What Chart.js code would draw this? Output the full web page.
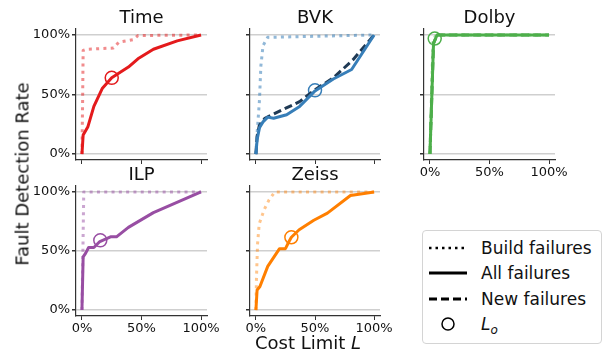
<!DOCTYPE html>
<html>
<head>
<meta charset="utf-8">
<script src="https://cdn.jsdelivr.net/npm/chart.js@4"></script>
<style>
    body { margin: 0; background: #fff; font-family: "DejaVu Sans", sans-serif; }
    #wrap { position: relative; width: 605px; height: 350px; overflow: hidden; }
    #wrap canvas { position: absolute; left: 0; top: 0; }
    .lbl { position: absolute; font-size: 18px; color: #111; white-space: nowrap; }
    #legend { position: absolute; left: 422px; top: 230px; width: 178px; height: 112px;
        border: 1px solid #d4d4d4; border-radius: 4px; background: #fff; }
    .row { position: absolute; left: 0; height: 24px; width: 178px; }
    .row svg { position: absolute; left: 4px; top: 0; }
    .row span { position: absolute; left: 58px; top: 0; font-size: 17px; line-height: 24px; color: #111; }
</style>
</head>
<body>
<div id="wrap">
    <canvas id="cTime" width="605" height="350"></canvas>
    <canvas id="cBVK" width="605" height="350"></canvas>
    <canvas id="cDolby" width="605" height="350"></canvas>
    <canvas id="cILP" width="605" height="350"></canvas>
    <canvas id="cZeiss" width="605" height="350"></canvas>
    <div class="lbl" id="ylab" style="left:22px; top:174px; transform: translate(-50%, -50%) rotate(-90deg);">Fault Detection Rate</div>
    <div class="lbl" style="left:308px; top:342px; transform: translate(-50%, -50%);">Cost Limit <i>L</i></div>
    <div id="legend">
        <div class="row" style="top:5px"><svg width="40" height="24"><line x1="2" y1="12" x2="40" y2="12" stroke="#000" stroke-width="2.5" stroke-dasharray="2.5,4"/></svg><span>Build failures</span></div>
        <div class="row" style="top:30px"><svg width="40" height="24"><line x1="2" y1="12" x2="40" y2="12" stroke="#000" stroke-width="3"/></svg><span>All failures</span></div>
        <div class="row" style="top:56px"><svg width="40" height="24"><line x1="2" y1="12" x2="40" y2="12" stroke="#000" stroke-width="3" stroke-dasharray="8,4"/></svg><span>New failures</span></div>
        <div class="row" style="top:81px"><svg width="40" height="24"><circle cx="21" cy="12" r="6" fill="none" stroke="#000" stroke-width="1.5"/></svg><span><i>L</i><sub style="font-size:12px"><i>o</i></sub></span></div>
    </div>
</div>
<script>
// tick values shared by every panel
const tickValues = [0, 50, 100];

// Time
const timeAllX = [0, 1, 5, 10, 17, 25, 39, 47, 60, 80, 100];
const timeAllY = [0, 16, 23, 40, 55, 64, 73, 80, 88, 95, 100];
const timeBuildX = [0, 0.5, 1, 4, 26.5, 31, 43, 47, 100];
const timeBuildY = [0, 40, 87, 88, 89, 94, 96, 99.5, 100];
const timeLo = [25, 64];

// BVK
const bvkAllX = [0, 1, 3, 6, 10, 15, 26, 37, 50, 65.5, 81, 100];
const bvkAllY = [0, 12, 22, 27, 31, 30, 33, 40, 53, 63, 71, 100];
const bvkNewX = [0, 1, 3, 7.6, 20, 37, 50, 65.5, 82, 100];
const bvkNewY = [0, 15, 24.5, 30, 36, 44, 54, 64, 79, 100];
const bvkBuildX = [0, 1, 3, 4.2, 6, 10, 100];
const bvkBuildY = [0, 17, 45, 74, 91, 98, 100];
const bvkLo = [50, 53.5];

// Dolby
const dolbyAllX = [0, 3, 6, 100];
const dolbyAllY = [0, 93, 100, 100];
const dolbyBuildX = [0, 2.5, 5, 100];
const dolbyBuildY = [0, 95, 100, 100];
const dolbyLo = [4, 97];

// ILP
const ilpAllX = [0, 1, 3, 5.6, 10, 15, 24, 29, 39, 60, 100];
const ilpAllY = [0, 45, 48, 53, 53, 58, 62, 62, 70, 82.5, 100];
const ilpBuildX = [0, 0.8, 1.5, 100];
const ilpBuildY = [0, 50, 100, 100];
const ilpLo = [15.4, 59];

// Zeiss
const zeissAllX = [0, 1, 3.4, 10, 20, 25, 28, 30, 36.6, 49, 60.5, 80, 100];
const zeissAllY = [0, 17, 20, 37, 52, 52, 58, 61.6, 68, 76, 82, 97, 100];
const zeissBuildX = [0, 0.5, 1.4, 2.8, 7, 11, 16, 100];
const zeissBuildY = [0, 28, 56, 73, 85, 93, 100, 100];
const zeissLo = [30, 61.6];

function pts(xs, ys) {
    return xs.map((x, i) => ({ x: x, y: ys[i] }));
}

function lineSet(xs, ys, color, kind) {
    const ds = {
        type: 'line',
        data: pts(xs, ys),
        borderColor: color,
        borderWidth: 3,
        pointRadius: 0,
        tension: 0,
        fill: false,
        borderCapStyle: 'butt',
        borderJoinStyle: 'round',
    };
    if (kind === 'dotted') ds.borderDash = [3, 4.3];
    if (kind === 'dashed') ds.borderDash = [8, 4];
    return ds;
}

function loSet(lo, color) {
    return {
        type: 'scatter',
        data: [{ x: lo[0], y: lo[1] }],
        pointRadius: 6.5,
        pointHoverRadius: 6.5,
        pointBorderWidth: 1.5,
        pointBorderColor: color,
        pointBackgroundColor: 'rgba(0,0,0,0)',
    };
}

function makePanel(canvasId, title, box, showX, showY, datasets) {
    const canvas = document.getElementById(canvasId);
    const ctx = canvas.getContext('2d');
    // an empty right axis of the same width keeps the title centred over the plot
    const yWidth = 45;
    const xHeight = 22;

    canvas.chartInstance = new Chart(ctx, {
        type: 'line',
        data: { datasets },
        options: {
            responsive: false,
            animation: false,
            events: [],
            layout: {
                padding: {
                    left: box.left - yWidth,
                    right: 605 - box.right - yWidth,
                    top: box.top - 29,
                    bottom: 350 - box.bottom - xHeight,
                },
            },
            plugins: {
                legend: { display: false },
                tooltip: { enabled: false },
                title: {
                    display: true,
                    text: title,
                    color: '#111',
                    font: { family: 'DejaVu Sans', size: 18, weight: 'normal', lineHeight: '22px' },
                    padding: { top: 7, bottom: 0 },
                },
            },
            scales: {
                x: {
                    type: 'linear',
                    min: -5,
                    max: 105,
                    afterFit: scale => { scale.height = xHeight; },
                    afterBuildTicks: scale => { scale.ticks = tickValues.map(v => ({ value: v })); },
                    grid: { drawOnChartArea: false, tickLength: 4, tickColor: '#333', lineWidth: 1 },
                    border: { display: true, color: '#333', width: 1.2 },
                    ticks: {
                        display: showX,
                        padding: 1,
                        maxRotation: 0,
                        color: '#111',
                        font: { family: 'DejaVu Sans', size: 13 },
                        callback: v => v + '%',
                    },
                },
                y: {
                    type: 'linear',
                    min: -5,
                    max: 105,
                    afterFit: scale => { scale.width = yWidth; },
                    afterBuildTicks: scale => { scale.ticks = tickValues.map(v => ({ value: v })); },
                    grid: { color: '#cfcfcf', lineWidth: 1.5, tickLength: 4, tickColor: '#333' },
                    border: { display: true, color: '#333', width: 1.2 },
                    ticks: {
                        display: showY,
                        padding: 2,
                        color: '#111',
                        font: { family: 'DejaVu Sans', size: 13 },
                        callback: v => v + '%',
                    },
                },
                yPad: {
                    type: 'linear',
                    position: 'right',
                    min: -5,
                    max: 105,
                    afterFit: scale => { scale.width = yWidth; },
                    grid: { display: false },
                    border: { display: false },
                    ticks: { display: false },
                },
            },
        },
    });
}

document.addEventListener('DOMContentLoaded', function () {
    makePanel('cTime', 'Time', { left: 76, right: 207, top: 29, bottom: 160 }, false, true, [
        lineSet(timeBuildX, timeBuildY, 'rgba(228,26,28,0.5)', 'dotted'),
        lineSet(timeAllX, timeAllY, '#e41a1c', 'solid'),
        loSet(timeLo, '#e41a1c'),
    ]);

    makePanel('cBVK', 'BVK', { left: 250, right: 380, top: 29, bottom: 160 }, false, false, [
        lineSet(bvkBuildX, bvkBuildY, 'rgba(55,126,184,0.55)', 'dotted'),
        lineSet(bvkAllX, bvkAllY, '#377eb8', 'solid'),
        lineSet(bvkNewX, bvkNewY, '#1f3a55', 'dashed'),
        loSet(bvkLo, '#377eb8'),
    ]);

    makePanel('cDolby', 'Dolby', { left: 424, right: 555, top: 29, bottom: 160 }, true, false, [
        lineSet(dolbyAllX, dolbyAllY, '#4daf4a', 'solid'),
        lineSet(dolbyAllX, dolbyAllY, '#3f9a3c', 'dashed'),
        lineSet(dolbyBuildX, dolbyBuildY, 'rgba(166,215,164,0.9)', 'dotted'),
        loSet(dolbyLo, '#4daf4a'),
    ]);

    makePanel('cILP', 'ILP', { left: 76, right: 207, top: 186, bottom: 316 }, true, true, [
        lineSet(ilpBuildX, ilpBuildY, 'rgba(152,78,163,0.5)', 'dotted'),
        lineSet(ilpAllX, ilpAllY, '#984ea3', 'solid'),
        loSet(ilpLo, '#984ea3'),
    ]);

    makePanel('cZeiss', 'Zeiss', { left: 250, right: 380, top: 186, bottom: 316 }, true, false, [
        lineSet(zeissBuildX, zeissBuildY, 'rgba(255,127,0,0.45)', 'dotted'),
        lineSet(zeissAllX, zeissAllY, '#ff7f00', 'solid'),
        loSet(zeissLo, '#ff7f00'),
    ]);
});
</script>
</body>
</html>
